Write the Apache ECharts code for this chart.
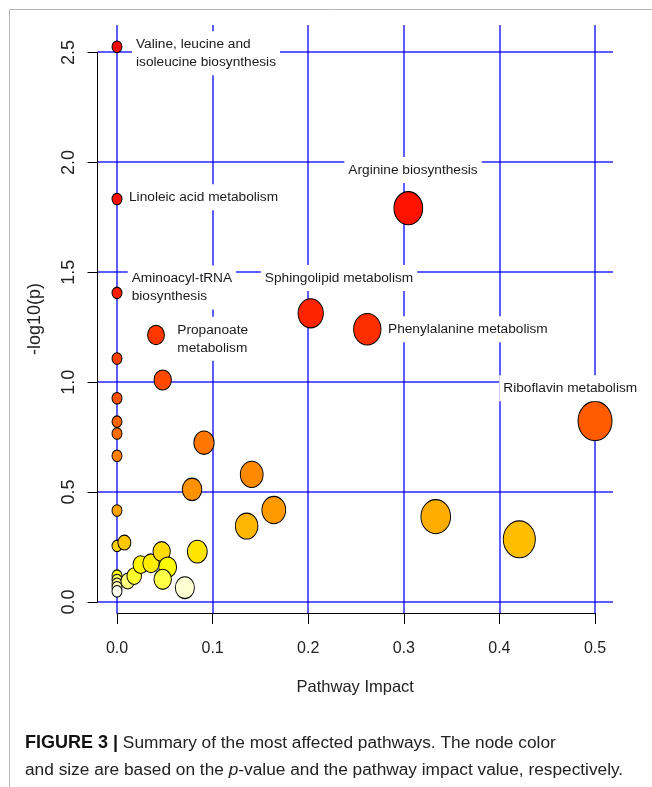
<!DOCTYPE html>
<html><head><meta charset="utf-8">
<script src="https://cdn.jsdelivr.net/npm/echarts@6/dist/echarts.min.js"></script>
<style>html,body{margin:0;padding:0;background:#fff}#c{width:652px;height:787px}</style>
</head><body><div id="c"></div>
<script>
// ---- data ----
const impact = [0, 0, 0, 0, 0, 0, 0, 0, 0, 0, 0, 0, 0, 0, 0,
  0.0077, 0.0112, 0.018, 0.0248, 0.0356, 0.0467, 0.053, 0.0478, 0.071, 0.084,
  0.0408, 0.0478, 0.091, 0.0785, 0.1409, 0.164, 0.1356,
  0.2026, 0.2618, 0.3047, 0.5, 0.3334, 0.4208];
const negLog10P = [2.524, 1.832, 1.405, 1.107, 0.926, 0.82, 0.766, 0.665, 0.416, 0.255, 0.12, 0.10, 0.083, 0.067, 0.049,
  0.27, 0.095, 0.118, 0.17, 0.176, 0.229, 0.158, 0.103, 0.065, 0.229,
  1.214, 1.009, 0.724, 0.512, 0.58, 0.418, 0.345,
  1.312, 1.24, 1.79, 0.823, 0.388, 0.285];
const pathwayNames = ['Valine, leucine and\nisoleucine biosynthesis', 'Linoleic acid metabolism', 'Aminoacyl-tRNA\nbiosynthesis',
  '', '', '', '', '', '', '', '', '', '', '', '',
  '', '', '', '', '', '', '', '', '', '',
  'Propanoate\nmetabolism', '', '', '', '', '', '',
  'Sphingolipid metabolism', 'Phenylalanine metabolism', 'Arginine biosynthesis', 'Riboflavin metabolism', '', ''];
const xTicks = [0, 0.1, 0.2, 0.3, 0.4, 0.5];
const yTicks = [0, 0.5, 1.0, 1.5, 2.0, 2.5];
const xTitle = 'Pathway Impact';
const yTitle = '-log10(p)';

// ---- styling ----
const FONT = '"Liberation Sans", Arial, sans-serif';
const labelPlacement = {
  'Valine, leucine and\nisoleucine biosynthesis': {align: 'left', offset: [15, 6.5]},
  'Linoleic acid metabolism': {align: 'left', offset: [8, -1.7]},
  'Aminoacyl-tRNA\nbiosynthesis': {align: 'left', offset: [10.7, -5.5]},
  'Propanoate\nmetabolism': {align: 'left', offset: [17.3, 3.9]},
  'Sphingolipid metabolism': {align: 'center', offset: [28.3, -35.3]},
  'Arginine biosynthesis': {align: 'center', offset: [4.7, -38.3]},
  'Phenylalanine metabolism': {align: 'left', offset: [16.7, 0]},
  'Riboflavin metabolism': {align: 'center', offset: [-24.8, -32.7]}
};

// R heat.colors(n), assigned by rank of p-value (largest -log10(p) = red)
function heatColors(n) {
  const j = Math.floor(n / 4), i = n - j, out = [];
  const hex = v => ('0' + Math.round(v * 255).toString(16)).slice(-2);
  for (let k = 0; k < i; k++) {
    const h = i > 1 ? k / (i - 1) / 6 : 0;
    out.push('#ff' + hex(h * 6) + '00');
  }
  for (let k = 0; k < j; k++) {
    const s0 = 1 - 1 / (2 * j), s1 = 1 / (2 * j);
    const s = j > 1 ? s0 + (s1 - s0) * k / (j - 1) : s0;
    out.push('#ffff' + hex(1 - s));
  }
  return out;
}
const heat = heatColors(negLog10P.length);
const order = negLog10P.map((v, i) => i).sort((a, b) => negLog10P[b] - negLog10P[a]);
const colorOf = [];
order.forEach((idx, r) => { colorOf[idx] = heat[r]; });

const points = impact.map((x, i) => {
  const d = {value: [x, negLog10P[i]], name: pathwayNames[i], itemStyle: {color: colorOf[i]}};
  if (pathwayNames[i]) {
    d.label = Object.assign({show: true}, labelPlacement[pathwayNames[i]]);
  }
  return d;
});

const chart = echarts.init(document.getElementById('c'));
const blue = '#0000ff';
chart.setOption({
  animation: false,
  backgroundColor: '#fff',
  title: {
    left: 25, top: 729.5, padding: 0,
    text: '{b|FIGURE 3 |} Summary of the most affected pathways. The node color\nand size are based on the {i|p}-value and the pathway impact value, respectively.',
    textStyle: {
      fontFamily: FONT, fontSize: 17.3, fontWeight: 'normal', color: '#222', lineHeight: 27,
      rich: {
        b: {fontFamily: FONT, fontSize: 18, fontWeight: 'bold', color: '#111', lineHeight: 27},
        i: {fontFamily: FONT, fontSize: 17.3, fontStyle: 'italic', color: '#222', lineHeight: 27}
      }
    }
  },
  graphic: [
    {type: 'line', shape: {x1: 9.5, y1: 9.5, x2: 652, y2: 9.5}, style: {stroke: '#b5b5b5', lineWidth: 1}, silent: true},
    {type: 'line', shape: {x1: 9.5, y1: 9.5, x2: 9.5, y2: 787}, style: {stroke: '#b5b5b5', lineWidth: 1}, silent: true}
  ],
  grid: [
    {left: 97.5, right: 39, top: 25, bottom: 174},
    {left: 117, right: 57, top: 52.5, bottom: 185}
  ],
  xAxis: [
    {
      type: 'value', gridIndex: 0, min: -0.0204, max: 0.5188,
      axisLine: {show: false},
      axisTick: {show: false, customValues: xTicks},
      axisLabel: {show: false, customValues: xTicks},
      splitLine: {show: true, lineStyle: {color: blue, width: 1.5, opacity: 0.85}},
      name: xTitle, nameLocation: 'middle', nameGap: 66,
      nameTextStyle: {fontFamily: FONT, fontSize: 16.5, color: '#222'}
    },
    {
      type: 'value', gridIndex: 1, min: 0, max: 0.5, interval: 0.1, offset: 11,
      axisLine: {show: true, onZero: false, lineStyle: {color: '#000', width: 1}},
      axisTick: {show: true, length: 11, lineStyle: {color: '#000', width: 1}},
      axisLabel: {margin: 28, fontFamily: FONT, fontSize: 16, color: '#222', formatter: v => v.toFixed(1)},
      splitLine: {show: false}
    }
  ],
  yAxis: [
    {
      type: 'value', gridIndex: 0, min: -0.05, max: 2.6227,
      axisLine: {show: false},
      axisTick: {show: false, customValues: yTicks},
      axisLabel: {show: false, customValues: yTicks},
      splitLine: {show: true, lineStyle: {color: blue, width: 1.5, opacity: 0.85}},
      name: yTitle, nameLocation: 'middle', nameGap: 53,
      nameTextStyle: {fontFamily: FONT, fontSize: 18, color: '#222'}
    },
    {
      type: 'value', gridIndex: 1, min: 0, max: 2.5, interval: 0.5, offset: 19.5,
      axisLine: {show: true, onZero: false, lineStyle: {color: '#000', width: 1}},
      axisTick: {show: true, length: 10, lineStyle: {color: '#000', width: 1}},
      axisLabel: {rotate: 90, margin: 19, fontFamily: FONT, fontSize: 18, color: '#222', formatter: v => v.toFixed(1)},
      splitLine: {show: false}
    }
  ],
  series: [
    {
      type: 'scatter', xAxisIndex: 0, yAxisIndex: 0, clip: false,
      symbol: 'circle',
      symbolSize: val => { const w = 10 + 34 * Math.sqrt(val[0]); return [w, w * 1.15]; },
      itemStyle: {borderColor: '#000', borderWidth: 1, opacity: 1},
      label: {
        show: false, position: 'inside', verticalAlign: 'middle', formatter: '{b}',
        fontFamily: FONT, fontSize: 13.7, lineHeight: 18, color: '#1a1a1a',
        backgroundColor: '#fff', padding: [4, 4, 4, 4]
      },
      emphasis: {disabled: true},
      data: points
    },
    {type: 'scatter', xAxisIndex: 1, yAxisIndex: 1, data: [], silent: true}
  ]
});
</script></body></html>
